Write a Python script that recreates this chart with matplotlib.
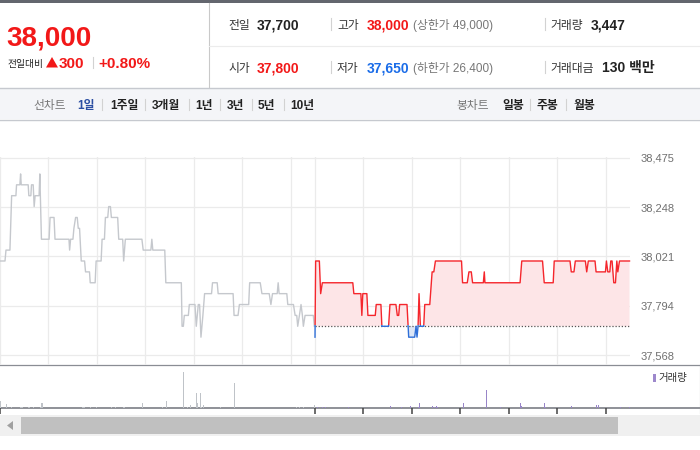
import numpy as np
import matplotlib.pyplot as plt
from matplotlib.patches import Rectangle, Polygon

plt.rcParams['font.family'] = ['Liberation Sans', 'Noto Sans CJK KR']

# quote summary
price_now = 38000
change = 300
change_pct = 0.80
prev_close = 37700
day_open = 37800
day_high = 38000
day_low = 37650
upper_limit = 49000
lower_limit = 26400
volume_total = 3447
amount_million = 130

line_periods = ['1일', '1주일', '3개월', '1년', '3년', '5년', '10년']
candle_periods = ['일봉', '주봉', '월봉']

y_ticks = [37568, 37794, 38021, 38248, 38475]

# x = minutes since 09:00 of the previous session, today's session starts at 390
grid_minutes = [0, 60, 120, 180, 240, 300, 360, 390, 450, 510, 570, 630, 690, 750]
vol_ticks = [0, 390, 450, 510, 570, 630, 690, 750]

prev_t = [0, 6.2, 7.4, 12.3, 14.4, 19.7, 20.5, 24.6, 25.5, 26.3, 34.9, 35.7, 38.2, 39.0,
          41.1, 42.3, 43.5, 48.4, 49.3, 51.3, 60.8, 62.0, 66.9, 68.1, 85.4, 86.2, 87.4,
          90.3, 91.5, 93.6, 95.6, 96.9, 98.5, 100.6, 104.7, 105.9, 110.8, 111.7, 117.8,
          119.0, 125.2, 126.4, 129.3, 130.5, 133.4, 134.6, 136.7, 137.9, 145.7, 147.0,
          151.9, 153.1, 155.2, 175.7, 177.3, 186.8, 188.0, 189.2, 204.0, 205.3, 224.5,
          225.4, 227.0, 228.2, 233.2, 234.4, 241.4, 243.0, 245.5, 247.1, 248.8, 251.2,
          253.3, 261.9, 263.1, 268.9, 270.1, 288.6, 289.8, 294.7, 296.4, 307.9, 309.1,
          322.2, 324.3, 333.3, 335.4, 337.4, 343.2, 344.4, 345.6, 355.1, 356.3, 363.3,
          365.4, 367.4, 368.6, 370.7, 372.7, 374.4, 375.6, 377.7, 387.9, 389.2]
prev_p = [38000, 38000, 38050, 38050, 38300, 38300, 38350, 38350, 38400, 38350, 38350,
          38300, 38300, 38350, 38350, 38250, 38300, 38300, 38400, 38100, 38100, 38200,
          38200, 38100, 38100, 38050, 38100, 38100, 38150, 38200, 38200, 38150, 38150,
          38000, 38000, 37950, 37950, 37900, 37900, 38000, 38000, 38100, 38100, 38200,
          38200, 38250, 38250, 38200, 38200, 38100, 38100, 38000, 38100, 38100, 38050,
          38050, 38100, 38050, 38050, 37900, 37900, 37700, 37700, 37750, 37750, 37800,
          37800, 37700, 37800, 37800, 37650, 37750, 37850, 37850, 37900, 37900, 37850,
          37850, 37750, 37750, 37800, 37800, 37900, 37900, 37850, 37850, 37800, 37850,
          37850, 37900, 37850, 37850, 37800, 37800, 37750, 37750, 37700, 37750, 37800,
          37750, 37700, 37750, 37750, 37700]

today_t = [390.0, 390.8, 395.4, 397.0, 399.1, 436.8, 438.1, 446.8, 448.0, 449.2, 454.2,
           455.5, 464.6, 465.8, 471.6, 472.8, 481.1, 482.8, 490.2, 491.9, 493.6, 494.8,
           503.9, 506.0, 513.4, 515.1, 516.3, 517.6, 518.8, 520.5, 524.6, 525.9, 532.1,
           535.0, 537.1, 539.1, 571.4, 572.7, 578.5, 580.6, 583.5, 585.1, 598.4, 599.6,
           600.4, 643.9, 646.0, 671.7, 673.8, 684.9, 686.2, 705.7, 707.3, 710.6, 712.3,
           724.7, 726.4, 728.4, 736.7, 738.0, 749.6, 750.8, 752.5, 755.0, 756.2, 757.8,
           759.9, 762.0, 763.7, 764.9, 767.0, 779.4]
today_p = [37650, 38000, 38000, 37850, 37900, 37900, 37850, 37850, 37750, 37850, 37850,
           37750, 37750, 37800, 37800, 37700, 37700, 37800, 37800, 37750, 37750, 37800,
           37800, 37650, 37650, 37700, 37650, 37700, 37850, 37700, 37700, 37800, 37800,
           37950, 37950, 38000, 38000, 37900, 37900, 37950, 37950, 37900, 37900, 37950,
           37900, 37900, 38000, 38000, 37900, 37900, 38000, 38000, 37950, 37950, 38000,
           38000, 37950, 38000, 38000, 37950, 37950, 38000, 37950, 37950, 38000, 38000,
           37900, 37900, 38000, 37950, 38000, 38000]

vol_t = [1, 8, 14, 26, 28, 35, 36, 42, 50, 52, 102, 104, 112, 120, 138, 143, 153, 154,
         177, 201, 206, 227, 232, 236, 243, 244, 245, 248, 250, 252, 273, 290, 367, 371,
         376, 389, 393, 399, 403, 431, 484, 497, 508, 518, 519, 536, 538, 540, 542, 574,
         602, 620, 645, 646, 674, 675, 707, 739, 741, 768, 780]
vol_v = [390, 230, 70, 70, 70, 70, 70, 70, 70, 280, 70, 70, 70, 70, 70, 70, 70, 70,
         280, 70, 390, 1910, 70, 160, 810, 280, 120, 810, 70, 160, 70, 1340, 70, 70,
         70, 160, 70, 70, 70, 70, 120, 70, 120, 70, 280, 120, 70, 120, 70, 280,
         970, 70, 280, 120, 280, 70, 120, 180, 180, 70, 70]

RED = '#f21818'
BLUE = '#1a6ce8'
W, H = 700, 450


def fig_rect(x0, y0, x1, y1):
    return [x0 / W, 1 - y1 / H, (x1 - x0) / W, (y1 - y0) / H]


def main():
    fig = plt.figure(figsize=(7, 4.5), dpi=100)

    # frame: header, toolbar, scrollbar
    ov = fig.add_axes([0, 0, 1, 1])
    ov.set_xlim(0, W)
    ov.set_ylim(H, 0)
    ov.axis('off')

    def txt(x, y, s, **kw):
        ov.text(x, y, s, ha='left', va='baseline', **kw)

    def vsep(x, y0, y1, c='#d2d2d2'):
        ov.plot([x, x], [y0, y1], color=c, lw=0.8)

    ov.add_patch(Rectangle((0, 0), W, 3, color='#63666e', lw=0))
    vsep(208.5, 3, 87, '#c9c9c9')
    ov.plot([209, W], [45.5, 45.5], color='#ececec', lw=0.8)
    ov.add_patch(Rectangle((0, 88), W, 31, color='#f4f5f8', lw=0))
    ov.plot([0, W], [87.5, 87.5], color='#c6c9cf', lw=1)
    ov.plot([0, W], [119.5, 119.5], color='#c6c9cf', lw=1)

    txt(6, 45, f'{price_now:,}', fontsize=20, weight='bold', color=RED)
    txt(7, 66.5, '전일대비', fontsize=7, color='#222')
    ov.add_patch(Polygon([(46, 67.5), (58, 67.5), (52, 57)], color=RED, lw=0))
    txt(59, 67.5, f'{change:,}', fontsize=11, weight='bold', color=RED)
    vsep(93, 57, 68)
    txt(98, 67.5, f'+{change_pct:.2f}%', fontsize=11, weight='bold', color=RED)

    rows = [
        (29.3, '전일', f'{prev_close:,}', '#222', '고가', f'{day_high:,}', RED,
         f'(상한가 {upper_limit:,})', '거래량', f'{volume_total:,}'),
        (72.3, '시가', f'{day_open:,}', RED, '저가', f'{day_low:,}', BLUE,
         f'(하한가 {lower_limit:,})', '거래대금', f'{amount_million} 백만'),
    ]
    for y, l1, v1, c1, l2, v2, c2, lim, l3, v3 in rows:
        txt(228, y, l1, fontsize=8.5, color='#333')
        txt(257, y, v1, fontsize=10, weight='bold', color=c1)
        vsep(330.5, y - 11, y + 1)
        txt(337, y, l2, fontsize=8.5, color='#333')
        txt(367, y, v2, fontsize=10, weight='bold', color=c2)
        txt(413, y, lim, fontsize=8.5, color='#777')
        vsep(544.5, y - 11, y + 1)
        txt(550, y, l3, fontsize=8.5, color='#333')
        txt(591 if l3 == '거래량' else 602, y, v3, fontsize=10, weight='bold', color='#222')

    txt(33, 109, '선차트', fontsize=8.5, color='#777')
    xs = [77, 110, 152, 195, 227, 258, 290]
    seps = [101, 144, 188, 219, 251, 283]
    for i, (x, s) in enumerate(zip(xs, line_periods)):
        txt(x, 109, s, fontsize=8.5, weight='bold', color='#2b4ea2' if i == 0 else '#222')
    for x in seps:
        vsep(x + 0.5, 99, 110)
    txt(456, 109, '봉차트', fontsize=8.5, color='#777')
    for x, s in zip([502, 537, 573], candle_periods):
        txt(x, 109, s, fontsize=8.5, weight='bold', color='#222')
    for x in [529, 565]:
        vsep(x + 0.5, 99, 110)

    # price chart
    ax = fig.add_axes(fig_rect(0, 157, 630, 365))
    won_per_px = (y_ticks[-1] - y_ticks[0]) / 198
    ax.set_xlim(0, 780)
    ax.set_ylim(y_ticks[0] - 10 * won_per_px, y_ticks[-1] + 0.6 * won_per_px)
    ax.patch.set_alpha(0)
    for s in ax.spines.values():
        s.set_visible(False)
    ax.set_xticks(grid_minutes)
    ax.tick_params(axis='x', length=0, labelbottom=False)
    ax.yaxis.tick_right()
    ax.set_yticks(y_ticks)
    ax.set_yticklabels([f'{v:,}' for v in y_ticks])
    ax.tick_params(axis='y', length=0, pad=7.5, labelsize=8, labelcolor='#707070')
    ax.grid(True, color='#ebebeb', lw=0.9)
    ax.set_axisbelow(True)

    ax.plot(prev_t, prev_p, color='#c5c8cd', lw=1.0)

    t = np.array(today_t)
    p = np.array(today_p)
    ax.fill_between(t, p, prev_close, where=p >= prev_close, interpolate=True,
                    color='#fde5e7', lw=0)
    ax.fill_between(t, p, prev_close, where=p <= prev_close, interpolate=True,
                    color='#dce6f6', lw=0)
    ax.plot([390, 780], [prev_close, prev_close], color='#555', lw=0.9, ls=(0, (1, 1.5)))
    up, = ax.plot(t, p, color='#f5262c', lw=1.0)
    dn, = ax.plot(t, p, color='#2f6fd8', lw=1.0)
    up.set_clip_path(Rectangle((385, prev_close + 8), 400, 3000, transform=ax.transData))
    dn.set_clip_path(Rectangle((385, prev_close + 8 - 3000), 400, 3000, transform=ax.transData))

    # volume
    vx = fig.add_axes(fig_rect(0, 365, 630, 408))
    vx.set_xlim(0, 780)
    vx.set_ylim(0, 2280)
    vx.patch.set_alpha(0)
    for s in vx.spines.values():
        s.set_visible(False)
    vx.set_yticks([])
    vx.set_xticks(vol_ticks)
    vx.tick_params(axis='x', length=4, width=1.1, color='#444', labelbottom=False)
    vt = np.array(vol_t)
    vv = np.array(vol_v)
    old = vt < 390
    vx.bar(vt[old], vv[old], width=1.25, color='#bfc3c8', lw=0, antialiased=False)
    vx.bar(vt[~old], vv[~old], width=1.25, color='#9885c8', lw=0, antialiased=False)

    ov.plot([0, W], [365, 365], color='#8a8d94', lw=0.9)
    ov.plot([0, W], [408, 408], color='#70737a', lw=1.1)
    vsep(699.5, 365, 413, '#aaaaaa')
    ov.add_patch(Rectangle((653, 374), 3, 8, color='#9d88cc', lw=0))
    txt(658, 381.5, '거래량', fontsize=7.5, color='#333', family='Noto Sans CJK KR')

    # scrollbar
    ov.add_patch(Rectangle((0, 415), W, 21, color='#f0f0f0', lw=0))
    ov.add_patch(Rectangle((21, 417), 597, 17, color='#c0c0c0', lw=0))
    ov.add_patch(Polygon([(7, 425.5), (13, 421), (13, 430)], color='#a0a0a0', lw=0))

    fig.savefig('out.png', dpi=100)


if __name__ == '__main__':
    main()
